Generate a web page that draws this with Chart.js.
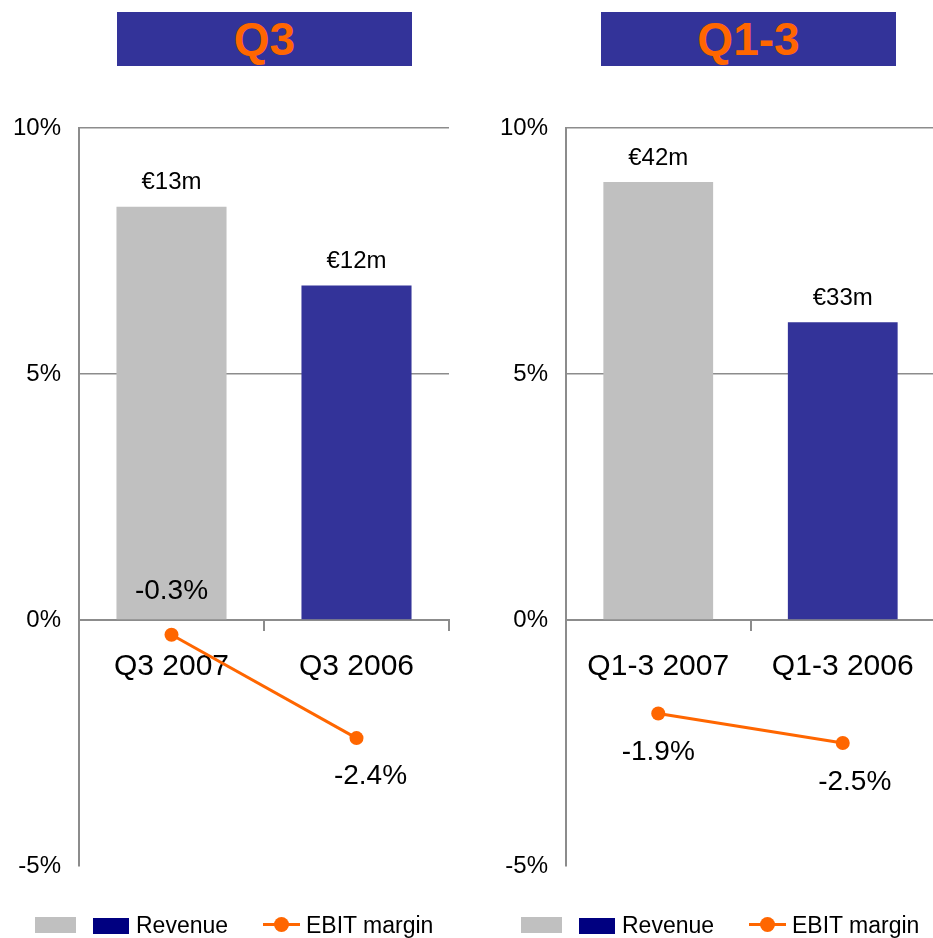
<!DOCTYPE html>
<html>
<head>
<meta charset="utf-8">
<script src="https://cdn.jsdelivr.net/npm/chart.js@4.4.1/dist/chart.umd.min.js"></script>
<style>
  html, body { margin: 0; padding: 0; background: #fff; overflow: hidden; }
  body { width: 933px; height: 938px; position: relative; font-family: "Liberation Sans", Arial, sans-serif; }
  canvas { position: absolute; top: 0; }
  .title { position: absolute; top: 12px; width: 295px; height: 54px; background: #333399; color: #FF6600;
           font: bold 46px "Liberation Sans", Arial, sans-serif; line-height: 54px; text-align: center; }
  .box { position: absolute; height: 16px; }
  .ltext { position: absolute; top: 912px; font-size: 23px; line-height: 26px; color: #000; white-space: nowrap; }
  .lline { position: absolute; top: 923px; width: 37px; height: 3px; background: #FF6600; }
  .ldot { position: absolute; top: 917px; width: 15px; height: 15px; border-radius: 50%; background: #FF6600; }
</style>
</head>
<body>
<div class="title" style="left:117px">Q3</div>
<div class="title" style="left:601px">Q1-3</div>
<canvas id="q3Chart" width="466" height="938" style="left:0"></canvas>
<canvas id="ytdChart" width="476" height="938" style="left:466px"></canvas>
<div id="legends"></div>

<script>
// ===================== DATA =====================
const yTicks = [-5, 0, 5, 10];

const q3Labels = ["Q3 2007", "Q3 2006"];
const q3Revenue = [8.4, 6.8];          // bar height on the % axis
const q3RevenueText = ["€13m", "€12m"];
const q3Ebit = [-0.3, -2.4];

const ytdLabels = ["Q1-3 2007", "Q1-3 2006"];
const ytdRevenue = [8.9, 6.05];
const ytdRevenueText = ["€42m", "€33m"];
const ytdEbit = [-1.9, -2.5];

const barColors = ["#C0C0C0", "#333399"];
const FONT = '"Liberation Sans", Arial, sans-serif';

// ===================== VALUE LABELS PLUGIN =====================
const valueLabels = {
  id: "valueLabels",
  afterDatasetsDraw(chart, args, opts) {
    const ctx = chart.ctx;
    ctx.save();
    ctx.fillStyle = "#000";
    ctx.textAlign = "center";
    ctx.textBaseline = "middle";

    ctx.font = "24px " + FONT;
    chart.getDatasetMeta(0).data.forEach((bar, i) => {
      ctx.fillText(opts.revenueText[i], bar.x, bar.y - 24);
    });

    ctx.font = "28px " + FONT;
    const ebit = chart.data.datasets[1].data;
    chart.getDatasetMeta(1).data.forEach((pt, i) => {
      const off = opts.ebitOffsets[i];
      ctx.fillText(ebit[i].toFixed(1) + "%", pt.x + off[0], pt.y + off[1]);
    });
    ctx.restore();
  }
};

// ===================== CHART FACTORY =====================
function makePanel(id, labels, revenue, revenueText, ebit, axisWidth, padRight, ebitOffsets) {
  const ctx = document.getElementById(id).getContext("2d");
  return new Chart(ctx, {
    type: "bar",
    data: {
      labels: labels,
      datasets: [{
        type: "bar",
        label: "Revenue",
        data: revenue,
        backgroundColor: barColors,
        barPercentage: 0.595,
        categoryPercentage: 1,
        order: 1
      }, {
        type: "line",
        label: "EBIT margin",
        data: ebit,
        borderColor: "#FF6600",
        backgroundColor: "#FF6600",
        borderWidth: 3,
        pointRadius: 7,
        pointBackgroundColor: "#FF6600",
        pointBorderWidth: 0,
        tension: 0,
        order: 0
      }]
    },
    options: {
      responsive: false,
      animation: false,
      layout: { padding: { top: 128, bottom: 72, left: 0, right: padRight } },
      plugins: {
        legend: { display: false },
        tooltip: { enabled: false },
        valueLabels: { revenueText: revenueText, ebitOffsets: ebitOffsets }
      },
      scales: {
        x: {
          position: { y: 0 },
          offset: true,
          grid: { display: true, drawOnChartArea: false, drawTicks: true, tickLength: 10,
                  offset: true, color: "#8c8c8c", lineWidth: 2 },
          border: { display: true, color: "#8c8c8c", width: 2 },
          ticks: { color: "#000", font: { family: FONT, size: 30 }, padding: 19, maxRotation: 0 }
        },
        y: {
          min: -5,
          max: 10,
          afterBuildTicks: (scale) => { scale.ticks = yTicks.map(v => ({ value: v })); },
          afterFit: (scale) => { scale.width = axisWidth; },
          grid: {
            drawTicks: false,
            color: (c) => (c.tick && c.tick.value > 0) ? "#8c8c8c" : "rgba(0,0,0,0)",
            lineWidth: 1.5
          },
          border: { display: true, color: "#8c8c8c", width: 2 },
          ticks: { color: "#000", font: { family: FONT, size: 24 }, padding: 18,
                   callback: (v) => v + "%" }
        }
      }
    },
    plugins: [valueLabels]
  });
}

makePanel("q3Chart", q3Labels, q3Revenue, q3RevenueText, q3Ebit, 79, 17, [[0, -43], [14, 38]]);
makePanel("ytdChart", ytdLabels, ytdRevenue, ytdRevenueText, ytdEbit, 100, 0, [[0, 39], [12, 39]]);

// ===================== LEGENDS =====================
function addLegend(x0) {
  const wrap = document.getElementById("legends");
  const html =
    `<div class="box" style="left:${x0 + 35}px;top:917px;width:41px;background:#C0C0C0"></div>` +
    `<div class="box" style="left:${x0 + 93}px;top:918px;width:36px;background:#000080"></div>` +
    `<div class="ltext" style="left:${x0 + 136}px">Revenue</div>` +
    `<div class="lline" style="left:${x0 + 263}px"></div>` +
    `<div class="ldot" style="left:${x0 + 274}px"></div>` +
    `<div class="ltext" style="left:${x0 + 306}px">EBIT margin</div>`;
  wrap.insertAdjacentHTML("beforeend", html);
}
addLegend(0);
addLegend(486);
</script>
</body>
</html>
